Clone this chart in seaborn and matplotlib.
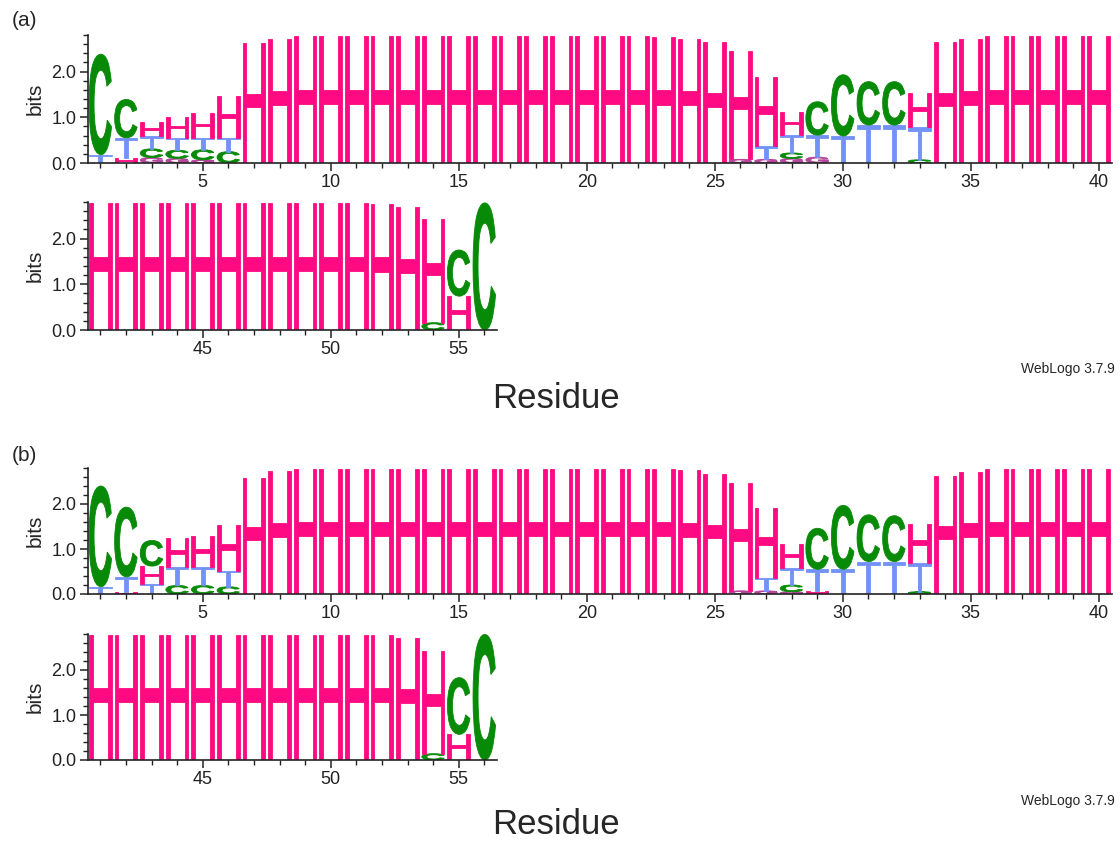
import matplotlib
matplotlib.use("Agg")
import matplotlib.pyplot as plt
import seaborn as sns
from matplotlib.textpath import TextPath
from matplotlib.font_manager import FontProperties
from matplotlib.patches import PathPatch
from matplotlib.transforms import Affine2D
from matplotlib.ticker import MultipleLocator, FixedLocator

# Sequence positions 1..56
positions = list(range(1, 57))

FULL = 2.78

# Panel (a): information content (bits) per letter at each position
a_H = [0, 0.10, 0.32, 0.45, 0.54, 0.92, 2.62, 2.72] + [FULL] * 14 + \
      [2.76, 2.72, 2.64, 2.36, 1.51, 0.51, 0, 0, 0, 0, 0.75, 2.62, 2.72] + [FULL] * 5 + \
      [FULL] * 11 + [2.75, 2.70, 2.26, 0.74, 0]
a_T = [0.18, 0.45, 0.27, 0.27, 0.26, 0.30] + [0] * 20 + \
      [0.29, 0.39, 0.48, 0.59, 0.83, 0.83, 0.72, 0.03] + [0] * 22
a_C = [2.20, 0.84, 0.19, 0.18, 0.22, 0.25] + [0] * 21 + \
      [0.12, 0.73, 1.34, 0.95, 0.95, 0.07] + [0] * 20 + [0.16, 1.01, 2.78]
a_G = [0, 0, 0.12, 0.10, 0.07] + [0] * 20 + [0.08, 0.08, 0.10, 0.13] + [0] * 27

# Panel (b)
b_H = [0, 0.04, 0.39, 0.64, 0.69, 1.01, 2.58, 2.74] + [FULL] * 14 + \
      [2.78, 2.75, 2.67, 2.40, 1.56, 0.55, 0.07, 0, 0, 0, 0.86, 2.62, 2.72] + [FULL] * 5 + \
      [FULL] * 11 + [2.77, 2.72, 2.28, 0.57, 0]
b_T = [0.16, 0.34, 0.23, 0.41, 0.41, 0.36] + [0] * 20 + \
      [0.29, 0.37, 0.48, 0.55, 0.72, 0.72, 0.65] + [0] * 23
b_C = [2.24, 1.55, 0.57, 0.19, 0.19, 0.16] + [0] * 21 + \
      [0.15, 0.91, 1.42, 1.04, 1.02, 0.05] + [0] * 20 + [0.14, 1.26, 2.79]
b_G = [0] * 25 + [0.07, 0.07, 0.05] + [0] * 28

LETTERS = ["G", "C", "T", "H"]
COLORS = {"C": "#078a07", "H": "#ff0a82", "T": "#7392f7", "G": "#b4449c"}

sns.set_style("ticks")
plt.rcParams["font.family"] = ["Liberation Sans", "DejaVu Sans"]
plt.rcParams["axes.edgecolor"] = "#222222"
plt.rcParams["xtick.color"] = "#222222"
plt.rcParams["ytick.color"] = "#222222"

regular = FontProperties(family="Liberation Sans")
bold = FontProperties(family="Liberation Sans", weight="bold")
GLYPH_FONT = {"H": regular, "T": regular, "C": bold, "G": bold}
GLYPHS = {k: TextPath((0, 0), k, size=1, prop=GLYPH_FONT[k]) for k in LETTERS}
LETTER_W = 0.88
W, H = 1120, 843


def draw_logo(ax, first, last, table):
    """Stack glyphs at each position, tallest on top, scaled to their bit heights."""
    for pos in range(first, last + 1):
        i = pos - 1
        stack = [(table[k][i], k) for k in LETTERS if table[k][i] > 0]
        stack.sort(key=lambda t: t[0])
        y = 0.0
        for h, k in stack:
            path = GLYPHS[k]
            ext = path.get_extents()
            tr = (Affine2D()
                  .translate(-ext.x0, -ext.y0)
                  .scale(LETTER_W / ext.width, h / ext.height)
                  .translate(pos - LETTER_W / 2, y))
            ax.add_patch(PathPatch(tr.transform_path(path), facecolor=COLORS[k],
                                   edgecolor=COLORS[k], lw=0.6))
            y += h


def style_axes(ax, first, last, labels):
    ax.set_xlim(first - 0.5, last + 0.5)
    ax.set_ylim(0, 2.8)
    ax.yaxis.set_major_locator(FixedLocator([0, 1, 2]))
    ax.set_yticklabels(["0.0", "1.0", "2.0"])
    ax.yaxis.set_minor_locator(MultipleLocator(0.2))
    ax.xaxis.set_major_locator(FixedLocator(labels))
    ax.set_xticklabels([str(v) for v in labels])
    ax.xaxis.set_minor_locator(FixedLocator(list(range(first, last + 1))))
    ax.tick_params(which="major", direction="out", length=6, width=1.1,
                   labelsize=13, pad=2)
    ax.tick_params(which="minor", direction="out", length=3.5, width=1.0)
    ax.set_ylabel("bits", fontsize=15, labelpad=5)
    for s in ("left", "bottom"):
        ax.spines[s].set_linewidth(1.2)
    sns.despine(ax=ax)
    ax.set_facecolor("white")


def add_axes(fig, x0, x1, top, bottom):
    return fig.add_axes([x0 / W, 1 - bottom / H, (x1 - x0) / W, (bottom - top) / H])


fig = plt.figure(figsize=(W / 100, H / 100), dpi=100)
fig.patch.set_facecolor("white")

unit = 25.6
left = 87.5
panels = [
    ("(a)", dict(H=a_H, T=a_T, C=a_C, G=a_G), 35, 163, 202, 330, 20, 369, 398),
    ("(b)", dict(H=b_H, T=b_T, C=b_C, G=b_G), 468, 594, 634, 760, 455, 801, 825),
]

for tag, table, t1, b1, t2, b2, tag_y, wl_y, res_y in panels:
    ax1 = add_axes(fig, left, left + 40 * unit, t1, b1)
    draw_logo(ax1, 1, 40, table)
    style_axes(ax1, 1, 40, [5, 10, 15, 20, 25, 30, 35, 40])

    ax2 = add_axes(fig, left, left + 16 * unit, t2, b2)
    draw_logo(ax2, 41, 56, table)
    style_axes(ax2, 41, 56, [45, 50, 55])

    fig.text(12 / W, 1 - tag_y / H, tag, fontsize=15, ha="left", va="center")
    fig.text(1115 / W, 1 - wl_y / H, "WebLogo 3.7.9", fontsize=10,
             ha="right", va="center")
    fig.text(556 / W, 1 - res_y / H, "Residue", fontsize=25,
             ha="center", va="center")

fig.savefig("out.png", dpi=100, facecolor="white")
